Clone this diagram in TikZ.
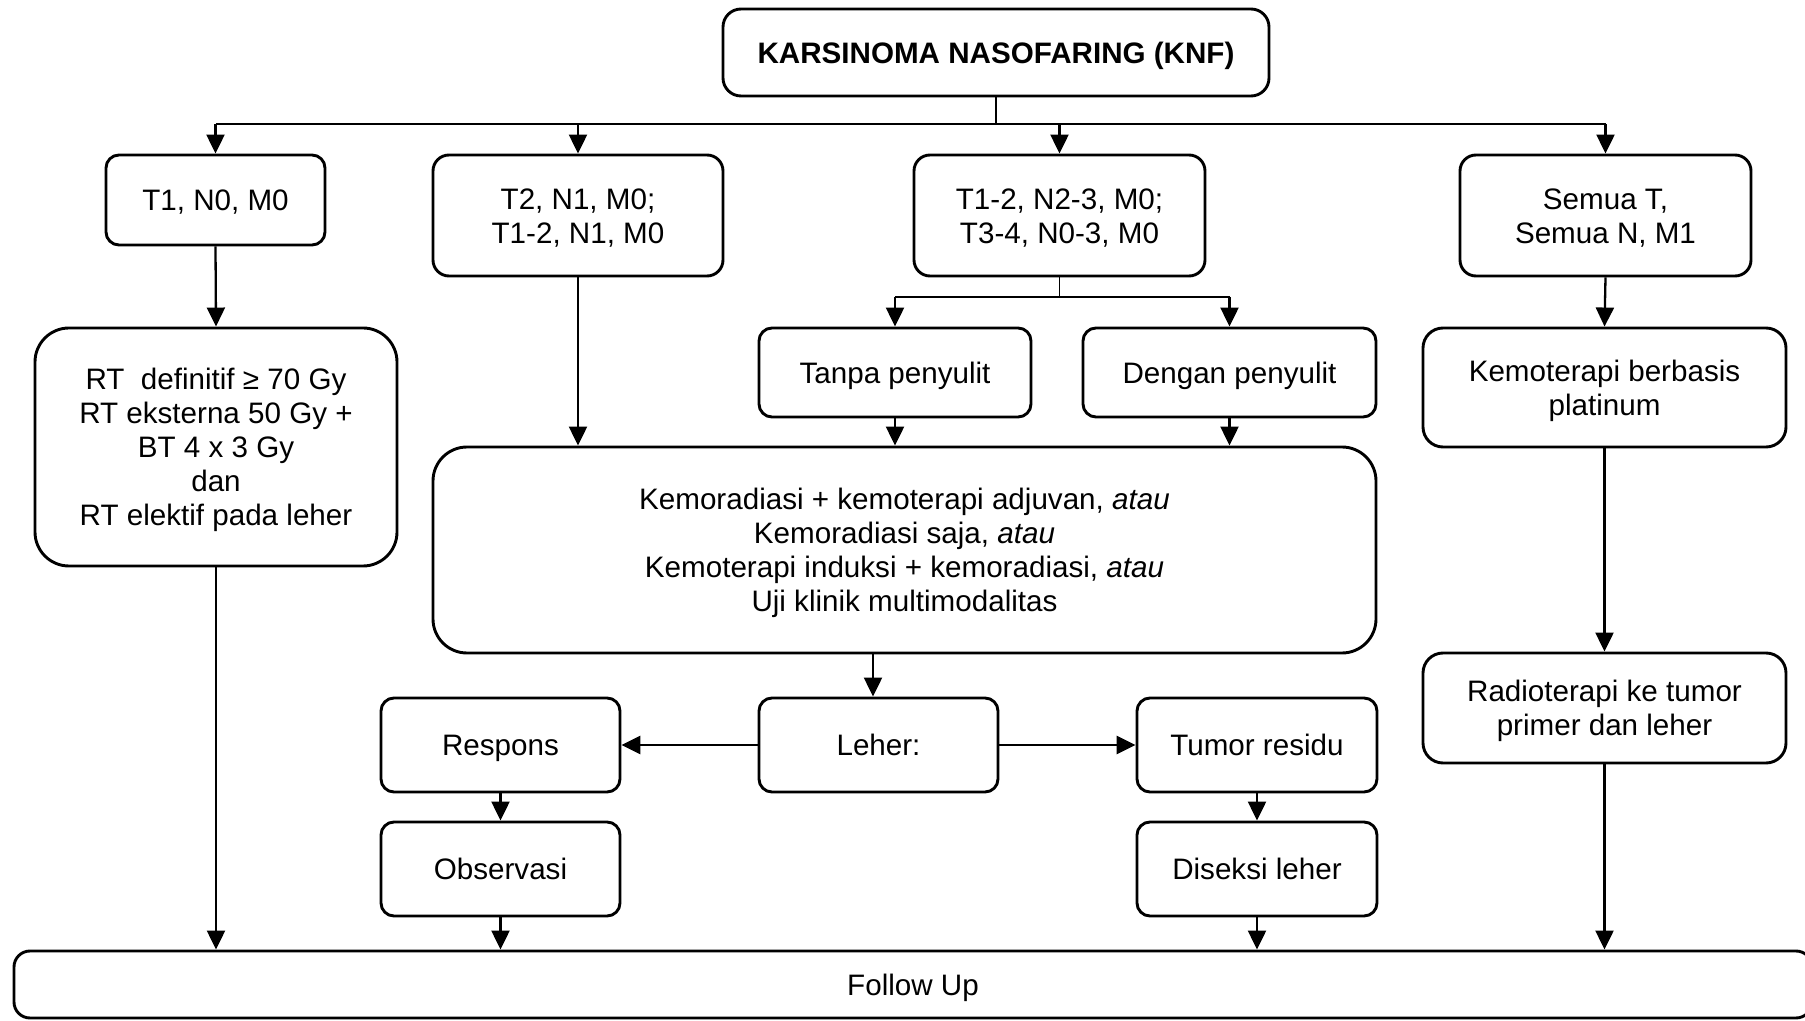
\documentclass[tikz,border=0pt]{standalone}
\usepackage{fontspec}
\setmainfont{Liberation Sans}
\usetikzlibrary{arrows.meta}
\newcommand{\lowtxt}[1]{\raisebox{-1.9pt}[\height][\depth]{\begin{tabular}{@{}c@{}}#1\end{tabular}}}
\begin{document}
\begin{tikzpicture}[x=0.5pt,y=-0.5pt,
  box/.style={draw, line width=1.45pt, rounded corners=6.5pt,
    font=\fontsize{14.8}{17}\selectfont, inner sep=0pt, fill=white},
  arr/.style={line width=1.15pt, -{Triangle[width=9pt,length=9.5pt]}},
  harr/.style={arr, line width=1.45pt},
  bus/.style={line width=0.7pt}]
\clip (0,0) rectangle (1805,1021);
\useasboundingbox (0,0) rectangle (1805,1021);
\fill[white] (0,0) rectangle (1805,1021);

\node[box, rounded corners=9pt, minimum width=273pt, minimum height=43.5pt,
  font=\bfseries\fontsize{14.8}{17}\selectfont] (knf) at (996,52.5) {\lowtxt{KARSINOMA NASOFARING (KNF)}};

\node[box, minimum width=109.5pt, minimum height=45pt] (t1) at (215.5,200) {\lowtxt{T1, N0, M0}};
\node[box, rounded corners=8pt, minimum width=145pt, minimum height=60.5pt] (t2) at (578,215.5) {\lowtxt{T2, N1, M0;\\T1-2, N1, M0}};
\node[box, rounded corners=8pt, minimum width=145.5pt, minimum height=60.5pt] (t12) at (1059.5,215.5) {\lowtxt{T1-2, N2-3, M0;\\T3-4, N0-3, M0}};
\node[box, rounded corners=8pt, minimum width=145.5pt, minimum height=60.5pt] (semua) at (1605.5,215.5) {\lowtxt{Semua T,\\Semua N, M1}};

\node[box, rounded corners=17pt, minimum width=181pt, minimum height=119pt] (rtdef) at (216,447)
  {\lowtxt{RT\ \ definitif ≥ 70 Gy\\RT eksterna 50 Gy +\\BT 4 x 3 Gy\\dan\\RT elektif pada leher}};
\node[box, minimum width=136pt, minimum height=44.5pt] (tanpa) at (895,372.5) {\lowtxt{Tanpa penyulit}};
\node[box, minimum width=146.5pt, minimum height=44.5pt] (dengan) at (1229.5,372.5) {\lowtxt{Dengan penyulit}};
\node[box, rounded corners=10pt, minimum width=181.5pt, minimum height=59.5pt] (kemo) at (1604.5,387.5) {\lowtxt{Kemoterapi berbasis\\platinum}};

\node[box, rounded corners=17pt, minimum width=471.5pt, minimum height=103pt] (big) at (904.5,550)
  {\lowtxt{Kemoradiasi + kemoterapi adjuvan, \textit{atau}\\Kemoradiasi saja, \textit{atau}\\Kemoterapi induksi + kemoradiasi, \textit{atau}\\Uji klinik multimodalitas}};

\node[box, minimum width=119.5pt, minimum height=47pt] (leher) at (878.5,745) {\lowtxt{Leher:}};
\node[box, minimum width=119.5pt, minimum height=47pt] (respons) at (500.5,745) {\lowtxt{Respons}};
\node[box, minimum width=120pt, minimum height=47pt] (tumor) at (1257,745) {\lowtxt{Tumor residu}};
\node[box, minimum width=119.5pt, minimum height=47pt] (obs) at (500.5,869) {\lowtxt{Observasi}};
\node[box, minimum width=120pt, minimum height=47pt] (dis) at (1257,869) {\lowtxt{Diseksi leher}};
\node[box, rounded corners=10pt, minimum width=181.5pt, minimum height=55pt] (radio) at (1604.5,708) {\lowtxt{Radioterapi ke tumor\\primer dan leher}};

\node[box, rounded corners=8pt, minimum width=899pt, minimum height=33.5pt] (follow) at (913,984.5) {\lowtxt{Follow Up}};

% top bus
\coordinate (b0) at (996,124);
\draw[bus] (knf.south) -- (b0);
\draw[bus] (t1.north |- b0) -- (semua.north |- b0);
\draw[arr] (t1.north |- b0) -- (t1.north);
\draw[arr] (t2.north |- b0) -- (t2.north);
\draw[arr] (t12.north |- b0) -- (t12.north);
\draw[arr] (semua.north |- b0) -- (semua.north);

% branch under T1-2
\coordinate (b1) at (1059.5,297);
\draw[bus] (t12.south) -- (b1);
\draw[bus] (tanpa.north |- b1) -- (dengan.north |- b1);
\draw[arr] (tanpa.north |- b1) -- (tanpa.north);
\draw[arr] (dengan.north |- b1) -- (dengan.north);

\draw[arr] (t1.south) -- (rtdef.north);
\draw[arr] (rtdef.south) -- (rtdef.south |- follow.north);
\draw[arr] (t2.south) -- (t2.south |- big.north);
\draw[arr] (tanpa.south) -- (tanpa.south |- big.north);
\draw[arr] (dengan.south) -- (dengan.south |- big.north);
\draw[arr] (semua.south) -- (kemo.north);
\draw[arr] (kemo.south) -- (radio.north);
\draw[arr] (radio.south) -- (radio.south |- follow.north);

\coordinate (lx) at (873,0);
\draw[arr] (big.south -| lx) -- (leher.north -| lx);
\draw[harr] (leher.west) -- (respons.east);
\draw[harr] (leher.east) -- (tumor.west);
\draw[arr] (respons.south) -- (obs.north);
\draw[arr] (tumor.south) -- (dis.north);
\draw[arr] (obs.south) -- (obs.south |- follow.north);
\draw[arr] (dis.south) -- (dis.south |- follow.north);
\end{tikzpicture}
\end{document}
